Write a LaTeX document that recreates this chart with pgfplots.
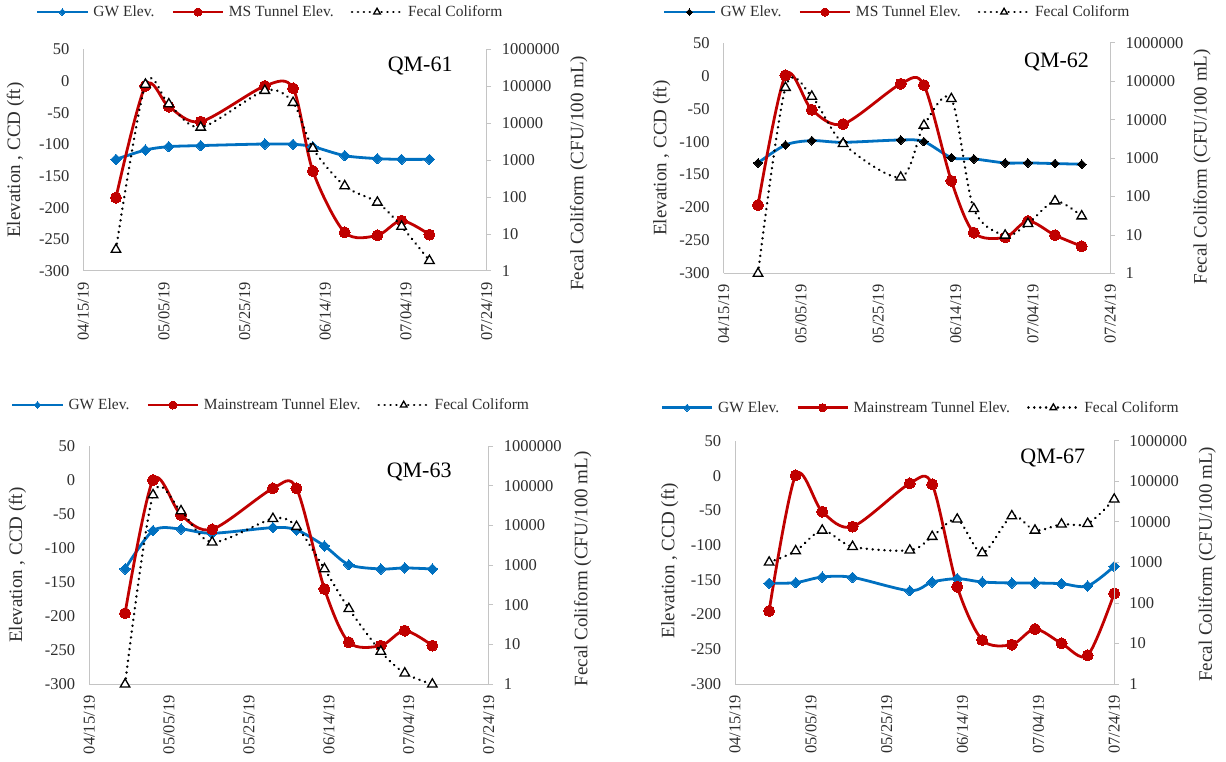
\documentclass[border=0pt]{standalone}
\usepackage{fontspec}
\setmainfont{Liberation Serif}
\usepackage{pgfplots}
\pgfplotsset{compat=1.18}
\definecolor{gwblue}{HTML}{0070C0}
\definecolor{msred}{HTML}{C00000}
\definecolor{txt}{HTML}{2E2E2E}
\definecolor{axgray}{HTML}{C4C4C4}
\newcommand\tickfont{\fontsize{16.5}{16.5}\selectfont}
\newcommand\legfont{\fontsize{15.5}{15.5}\selectfont}
\newcommand\labfont{\fontsize{19}{19}\selectfont}
\newcommand\titfont{\fontsize{22}{22}\selectfont}
\pgfplotsset{
  gw/.style={color=gwblue, line width=2.8pt, smooth, mark=square*, mark size=3.7pt,
    mark options={rotate=45, fill=gwblue, draw=gwblue, line width=0pt}},
  gwk/.style={color=gwblue, line width=2.8pt, smooth, mark=square*, mark size=3.1pt,
    mark options={rotate=45, fill=black, draw=black, line width=0pt}},
  ms/.style={color=msred, line width=2.8pt, smooth, mark=*, mark size=5.5pt,
    mark options={fill=msred, draw=msred, line width=0pt}},
  fc/.style={color=black, line width=2.6pt, dash pattern=on 0.1pt off 5.8pt, line cap=round, smooth,
    mark=triangle*, mark size=5.5pt, mark options={solid, fill=white, draw=black, line width=1.3pt}},
  elev/.style={scale only axis, clip=false, xmin=0, xmax=100, ymin=-300, ymax=50,
    axis x line*=bottom, axis y line*=left,
    axis line style={draw=axgray, line width=1pt},
    tick style={draw=none}, major tick length=0pt,
    xtick={0,20,40,60,80,100},
    xticklabels={04/15/19,05/05/19,05/25/19,06/14/19,07/04/19,07/24/19},
    ytick={-300,-250,-200,-150,-100,-50,0,50},
    yticklabels={-300,-250,-200,-150,-100,-50,0,50},
    tick label style={font=\tickfont, text=txt, inner sep=0pt},
    xticklabel style={rotate=90, anchor=east},
    yticklabel style={anchor=east},
    xticklabel shift=11pt, yticklabel shift=13.7pt},
  fcal/.style={scale only axis, clip=false, xmin=0, xmax=100, ymin=1, ymax=1000000,
    axis x line=none, axis y line*=right,
    axis line style={draw=axgray, line width=1pt},
    ytick={1,10,100,1000,10000,100000,1000000},
    yticklabels={1,10,100,1000,10000,100000,1000000},
    yminorticks=false, tick align=outside, major tick length=4.5pt,
    ytick style={draw=axgray, line width=1pt},
    tick label style={font=\tickfont, text=txt, inner sep=0pt},
    yticklabel style={anchor=west}, yticklabel shift=10.5pt,
    legend columns=3, legend cell align=left,
    legend image code/.code={\draw[mark repeat=2,mark phase=2,##1] plot coordinates {(0pt,0pt)(25pt,0pt)(50pt,0pt)};},
    legend style={draw=none, fill=none, inner sep=0pt, outer sep=0pt, font=\legfont, text=txt,
      anchor=west, nodes={inner sep=0pt},
      /tikz/every odd column/.append style={column sep=4.7pt},
      /tikz/every even column/.append style={column sep=17pt}}},
  lab/.style 2 args={every axis y label/.style={at={(axis description cs:#1,#2)}, rotate=90, anchor=center, font=\labfont, text=txt}},
}
\begin{document}
\begin{tikzpicture}[x=1pt,y=1pt]
\useasboundingbox (0,0) rectangle (1226,761);

% ---------------- Panel 1: QM-61 ----------------
\begin{axis}[elev, at={(83.3pt,490pt)}, anchor=south west, width=403.4pt, height=221.7pt,
  ylabel={Elevation , CCD (ft)}, lab={-0.168}{0.5}]
\addplot[gw] coordinates {(8.1,-123.7)(15.4,-109)(21.2,-103.7)(29.1,-102)(45.0,-99.5)(52.0,-100)(56.9,-103.7)(64.8,-117.9)(72.9,-122.6)(78.9,-123.7)(85.8,-123.7)};
\addplot[ms] coordinates {(8.1,-184.2)(15.4,-7.9)(21.2,-40.5)(29.1,-64.2)(45.0,-7.9)(52.0,-11.6)(56.9,-142.1)(64.8,-239)(72.9,-243.7)(78.9,-220.5)(85.8,-242.6)};
\node[font=\titfont] at (rel axis cs:0.835,0.925) {QM-61};
\end{axis}
\begin{semilogyaxis}[fcal, at={(83.3pt,490pt)}, anchor=south west, width=403.4pt, height=221.7pt,
  ylabel={Fecal Coliform (CFU/100 mL)}, lab={1.228}{0.44},
  legend style={at={(axis description cs:-0.1173,1.168)}}]
\addlegendimage{gw, mark size=2.4pt}
\addlegendentry{GW Elev.}
\addlegendimage{ms, mark size=4pt}
\addlegendentry{MS Tunnel Elev.}
\addlegendimage{fc, mark size=3.8pt}
\addlegendentry{Fecal Coliform}
\addplot[fc, forget plot] coordinates {(8.1,3.8)(15.4,112000)(21.2,33000)(29.1,7700)(45.0,76000)(52.0,36000)(56.9,2080)(64.8,200)(72.9,72)(78.9,16)(85.8,1.9)};
\end{semilogyaxis}

% ---------------- Panel 2: QM-62 ----------------
\begin{axis}[elev, at={(723.6pt,487.5pt)}, anchor=south west, width=386.7pt, height=230.8pt,
  ylabel={Elevation , CCD (ft)}, lab={-0.16}{0.5}]
\addplot[gwk] coordinates {(8.9,-132.3)(16.0,-105.1)(22.8,-98.5)(30.9,-101.1)(45.8,-97.5)(51.8,-100)(58.9,-124.2)(64.7,-126.2)(72.8,-132.3)(78.7,-132.3)(85.7,-133.3)(92.6,-134.3)};
\addplot[ms] coordinates {(8.9,-196.2)(16.0,0.7)(22.8,-51.7)(30.9,-73.4)(45.8,-12.4)(51.8,-14.4)(58.9,-159.5)(64.7,-238)(72.8,-245.1)(78.7,-220.4)(85.7,-242)(92.6,-258.7)};
\node[font=\titfont] at (rel axis cs:0.861,0.915) {QM-62};
\end{axis}
\begin{semilogyaxis}[fcal, at={(723.6pt,487.5pt)}, anchor=south west, width=386.7pt, height=230.8pt,
  ylabel={Fecal Coliform (CFU/100 mL)}, lab={1.237}{0.463},
  legend style={at={(axis description cs:-0.1567,1.1327)}}]
\addlegendimage{gwk, mark size=2.2pt}
\addlegendentry{GW Elev.}
\addlegendimage{ms, mark size=4pt}
\addlegendentry{MS Tunnel Elev.}
\addlegendimage{fc, mark size=3.8pt}
\addlegendentry{Fecal Coliform}
\addplot[fc, forget plot] coordinates {(8.9,1)(16.0,68000)(22.8,40000)(30.9,2370)(45.8,316)(51.8,7080)(58.9,34700)(64.7,48)(72.8,9.8)(78.7,19.7)(85.7,76)(92.6,31)};
\end{semilogyaxis}

% ---------------- Panel 3: QM-63 ----------------
\begin{axis}[elev, at={(89.1pt,76.7pt)}, anchor=south west, width=399.6pt, height=238.3pt,
  ylabel={Elevation , CCD (ft)}, lab={-0.179}{0.5}]
\addplot[gw] coordinates {(9.0,-130.6)(16.0,-74.3)(23.0,-71.9)(30.8,-78.2)(46.0,-69.9)(51.9,-73.3)(58.9,-96.8)(65.0,-124.3)(73.0,-130.6)(79.0,-129.1)(85.9,-130.6)};
\addplot[ms] coordinates {(9.0,-195.7)(16.0,0)(23.0,-51.3)(30.8,-72.4)(46.0,-12.2)(51.9,-12.2)(58.9,-160)(65.0,-238.3)(73.0,-243.2)(79.0,-221.2)(85.9,-243.2)};
\node[font=\titfont] at (rel axis cs:0.826,0.892) {QM-63};
\end{axis}
\begin{semilogyaxis}[fcal, at={(89.1pt,76.7pt)}, anchor=south west, width=399.6pt, height=238.3pt,
  ylabel={Fecal Coliform (CFU/100 mL)}, lab={1.235}{0.484},
  legend style={at={(axis description cs:-0.1954,1.172)}}]
\addlegendimage{gw, mark size=2.4pt}
\addlegendentry{GW Elev.}
\addlegendimage{ms, mark size=4pt}
\addlegendentry{Mainstream Tunnel Elev.}
\addlegendimage{fc, mark size=3.8pt}
\addlegendentry{Fecal Coliform}
\addplot[fc, forget plot] coordinates {(9.0,1)(16.0,58500)(23.0,23100)(30.8,3770)(46.0,14800)(51.9,9330)(58.9,802)(65.0,80)(73.0,6.7)(79.0,1.9)(85.9,1)};
\end{semilogyaxis}

% ---------------- Panel 4: QM-67 ----------------
\begin{axis}[elev, at={(735pt,77pt)}, anchor=south west, width=379.2pt, height=243pt,
  ylabel={Elevation , CCD (ft)}, lab={-0.172}{0.508}]
\addplot[gw] coordinates {(9.0,-155)(16.0,-154)(23.0,-145.9)(31.0,-146.4)(46.1,-165.6)(52.0,-153.1)(58.6,-148.3)(65.2,-153.1)(73.0,-154.5)(79.1,-154.5)(86.1,-155.5)(93.0,-158.8)(100,-130.5)};
\addplot[ms] coordinates {(9.0,-194.8)(16.0,0.6)(23.0,-51.8)(31.0,-73.4)(46.1,-11)(52.0,-12.4)(58.6,-159.8)(65.2,-236.6)(73.0,-243.3)(79.1,-220.8)(86.1,-241.4)(93.0,-258.7)(100,-169.4)};
\node[font=\titfont] at (rel axis cs:0.838,0.931) {QM-67};
\end{axis}
\begin{semilogyaxis}[fcal, at={(735pt,77pt)}, anchor=south west, width=379.2pt, height=243pt,
  ylabel={Fecal Coliform (CFU/100 mL)}, lab={1.245}{0.492},
  legend style={at={(axis description cs:-0.196,1.137)}}]
\addlegendimage{gw, mark size=2.4pt}
\addlegendentry{GW Elev.}
\addlegendimage{ms, mark size=4pt}
\addlegendentry{Mainstream Tunnel Elev.}
\addlegendimage{fc, mark size=3.8pt}
\addlegendentry{Fecal Coliform}
\addplot[fc, forget plot] coordinates {(9.0,1010)(16.0,1920)(23.0,6220)(31.0,2460)(46.1,2000)(52.0,4350)(58.6,11640)(65.2,1720)(73.0,14060)(79.1,6220)(86.1,8750)(93.0,9100)(100,36300)};
\end{semilogyaxis}
\end{tikzpicture}
\end{document}
